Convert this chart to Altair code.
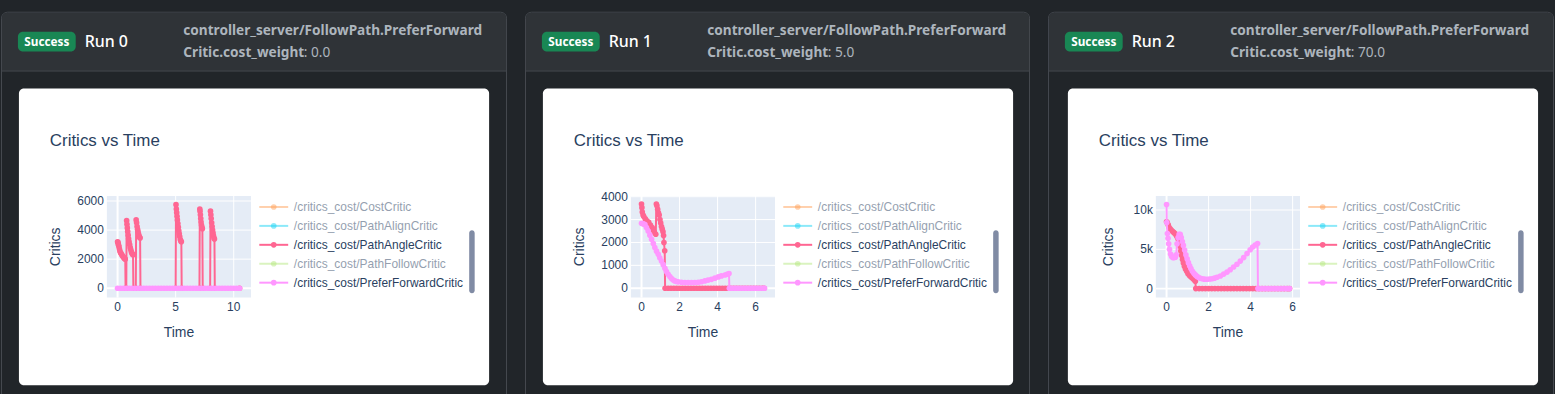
import altair as alt
import pandas as pd

# ---------------- data ----------------
RUN_LABELS = ["Run 0", "Run 1", "Run 2"]
RUN_STATUS = ["Success", "Success", "Success"]
PARAM_PATH = "controller_server/FollowPath.PreferForward"
PARAM_NAME = "Critic.cost_weight"
PARAM_VALUES = ["0.0", "5.0", "70.0"]

CHART_TITLE = "Critics vs Time"
X_TITLE = "Time"
Y_TITLE = "Critics"

SERIES_NAMES = [
    "/critics_cost/CostCritic",
    "/critics_cost/PathAlignCritic",
    "/critics_cost/PathAngleCritic",
    "/critics_cost/PathFollowCritic",
    "/critics_cost/PreferForwardCritic",
]
SERIES_COLORS = ["#FFA15A", "#19D3F3", "#FF6692", "#B6E880", "#FF97FF"]
SERIES_VISIBLE = [False, False, True, False, True]

X_TICKS = [[0, 5, 10], [0, 2, 4, 6], [0, 2, 4, 6]]
X_TICK_TEXT = [["0", "5", "10"], ["0", "2", "4", "6"], ["0", "2", "4", "6"]]
Y_TICKS = [[0, 2000, 4000, 6000], [0, 1000, 2000, 3000, 4000], [0, 5000, 10000]]
Y_TICK_TEXT = [["0", "2000", "4000", "6000"], ["0", "1000", "2000", "3000", "4000"], ["0", "5k", "10k"]]
X_DOMAIN = [[-0.92, 11.49], [-0.56, 7.02], [-0.51, 6.35]]
Y_DOMAIN = [[-646, 6344], [-410, 4030], [-1144, 11780]]

# Run 0
run0_angle_t = [0.00, 0.03, 0.06, 0.09, 0.12, 0.16, 0.20, 0.25, 0.30, 0.36, 0.42, 0.48, 0.54, 0.60, 0.66, 0.69,
                0.75, 0.78, 0.81, 0.84, 0.87, 0.91, 0.95, 0.99, 1.04, 1.09, 1.14, 1.19, 1.24, 1.29, 1.33, 1.36,
                1.57, 1.60, 1.64, 1.68, 1.72, 1.76, 1.80, 1.85, 1.90, 1.94, 1.97,
                5.00, 5.03, 5.06, 5.09, 5.12, 5.15, 5.19, 5.23, 5.27, 5.31, 5.35, 5.40, 5.45, 5.49, 5.52,
                7.05, 7.08, 7.10, 7.13, 7.16, 7.19, 7.22, 7.26, 7.30, 7.33,
                7.97, 8.00, 8.03, 8.06, 8.10, 8.14, 8.18, 8.22, 8.26, 8.30, 8.34, 8.37,
                10.50]
run0_angle_v = [3200, 3150, 3050, 2950, 2850, 2700, 2560, 2450, 2380, 2300, 2230, 2160, 2100, 2050, 2000, 0,
                0, 4650, 4400, 4150, 3900, 3650, 3400, 3200, 3000, 2800, 2650, 2500, 2400, 2330, 2300, 0,
                0, 4700, 4500, 4250, 4050, 3900, 3750, 3600, 3500, 3450, 0,
                0, 5750, 5450, 5200, 4950, 4700, 4450, 4200, 3950, 3750, 3550, 3350, 3250, 3200, 0,
                0, 5450, 5300, 5050, 4800, 4550, 4350, 4200, 4100, 0,
                0, 5300, 5050, 4800, 4500, 4250, 4000, 3800, 3600, 3450, 3380, 0,
                0]
run0_prefer_t = [0.0, 0.25, 0.5, 0.75, 1.0, 1.25, 1.5, 1.75, 2.0, 2.25, 2.5, 2.75, 3.0, 3.25, 3.5, 3.75,
                 4.0, 4.25, 4.5, 4.75, 5.0, 5.25, 5.5, 5.75, 6.0, 6.25, 6.5, 6.75, 7.0, 7.25, 7.5, 7.75,
                 8.0, 8.25, 8.5, 8.75, 9.0, 9.25, 9.5, 9.75, 10.0, 10.25, 10.5]
run0_prefer_v = [0, 0, 0, 0, 0, 0, 0, 0, 0, 0, 0, 0, 0, 0, 0, 0,
                 0, 0, 0, 0, 0, 0, 0, 0, 0, 0, 0, 0, 0, 0, 0, 0,
                 0, 0, 0, 0, 0, 0, 0, 0, 0, 0, 0]

# Run 1
run1_angle_t = [0.00, 0.02, 0.04, 0.08, 0.12, 0.20, 0.28, 0.38, 0.47, 0.56, 0.62, 0.68, 0.75,
                0.78, 0.81, 0.85, 0.89, 0.93, 0.97, 1.01, 1.05, 1.09, 1.13, 1.16, 1.18, 1.22, 1.24,
                1.40, 1.55, 1.70, 1.85, 2.00, 2.15, 2.30, 2.45, 2.60, 2.75, 2.90, 3.05, 3.20, 3.35, 3.50,
                3.65, 3.80, 3.95, 4.10, 4.25, 4.40, 4.55, 4.70, 4.85, 5.00, 5.15, 5.30, 5.45, 5.60, 5.75,
                5.90, 6.05, 6.20, 6.35, 6.45]
run1_angle_v = [3680, 3520, 3330, 3200, 3130, 3030, 2950, 2880, 2760, 2650, 2540, 2440, 2360,
                3680, 3600, 3450, 3300, 3200, 3000, 2850, 2700, 2580, 2470, 2300, 2000, 1640, 0,
                0, 0, 0, 0, 0, 0, 0, 0, 0, 0, 0, 0, 0, 0, 0,
                0, 0, 0, 0, 0, 0, 0, 0, 0, 0, 0, 0, 0, 0, 0,
                0, 0, 0, 0, 0]
run1_prefer_t = [0.00, 0.05, 0.10, 0.18, 0.26, 0.35, 0.44, 0.53, 0.62, 0.70,
                 0.79, 0.88, 0.96, 1.05, 1.14, 1.23, 1.31, 1.40, 1.49, 1.58,
                 1.67, 1.75, 1.84, 1.93, 2.10, 2.28, 2.45, 2.63, 2.80, 2.98,
                 3.15, 3.33, 3.50, 3.68, 3.86, 4.04, 4.20, 4.39, 4.50, 4.60,
                 4.62, 4.75, 4.90, 5.05, 5.20, 5.35, 5.50, 5.65, 5.80, 5.95, 6.10, 6.25, 6.40, 6.47]
run1_prefer_v = [2840, 2830, 2810, 2780, 2650, 2500, 2320, 2140, 1950, 1775,
                 1620, 1480, 1330, 1190, 1030, 870, 730, 610, 510, 420,
                 360, 320, 295, 280, 262, 250, 248, 250, 253, 260,
                 285, 320, 355, 390, 440, 495, 540, 580, 610, 640,
                 0, 0, 0, 0, 0, 0, 0, 0, 0, 0, 0, 0, 0, 0]

# Run 2
run2_angle_t = [0.00, 0.03, 0.08, 0.12, 0.17, 0.22, 0.28, 0.34, 0.40, 0.46,
                0.50, 0.55, 0.60, 0.64, 0.68, 0.72, 0.76, 0.80, 0.85, 0.90,
                0.96, 1.02, 1.10, 1.18, 1.26, 1.34, 1.37,
                1.39, 1.55, 1.70, 1.85, 2.00, 2.15, 2.30, 2.45, 2.60, 2.75, 2.90, 3.05, 3.20, 3.35, 3.50,
                3.65, 3.80, 3.95, 4.10, 4.25, 4.40, 4.55, 4.70, 4.85, 5.00, 5.15, 5.30, 5.45, 5.60, 5.75, 5.85]
run2_angle_v = [8500, 8400, 8100, 7800, 7600, 7450, 7300, 7150, 7000, 6800,
                6600, 6300, 5900, 5400, 4800, 4200, 3700, 3250, 2850, 2500,
                2200, 1900, 1650, 1450, 1250, 1050, 950,
                0, 0, 0, 0, 0, 0, 0, 0, 0, 0, 0, 0, 0, 0, 0,
                0, 0, 0, 0, 0, 0, 0, 0, 0, 0, 0, 0, 0, 0, 0, 0]
run2_prefer_t = [0.00, 0.01, 0.04, 0.07, 0.10, 0.14, 0.19, 0.24, 0.30, 0.36,
                 0.42, 0.46, 0.50, 0.55, 0.60, 0.65, 0.70, 0.75, 0.80, 0.86,
                 0.92, 0.98, 1.04, 1.10, 1.16, 1.23, 1.30, 1.37, 1.45, 1.53,
                 1.61, 1.70, 1.80, 1.93, 2.05, 2.16, 2.28, 2.40, 2.56, 2.72,
                 2.88, 3.03, 3.19, 3.35, 3.51, 3.67, 3.83, 3.98, 4.10, 4.22, 4.33,
                 4.35, 4.50, 4.65, 4.80, 4.95, 5.10, 5.25, 5.40, 5.55, 5.70, 5.85]
run2_prefer_v = [10700, 8400, 7000, 6400, 5700, 5000, 4400, 4100, 3950, 3950,
                 4000, 4300, 5700, 6500, 6900, 6900, 6500, 6000, 5500, 4900,
                 4300, 3800, 3300, 2900, 2550, 2200, 1950, 1740, 1550, 1420,
                 1320, 1250, 1200, 1190, 1220, 1260, 1330, 1450, 1610, 1850,
                 2100, 2400, 2750, 3100, 3500, 3950, 4450, 4950, 5300, 5550, 5740,
                 0, 0, 0, 0, 0, 0, 0, 0, 0, 0, 0]

RUN_SERIES = [
    [(run0_angle_t, run0_angle_v, 2), (run0_prefer_t, run0_prefer_v, 4)],
    [(run1_angle_t, run1_angle_v, 2), (run1_prefer_t, run1_prefer_v, 4)],
    [(run2_angle_t, run2_angle_v, 2), (run2_prefer_t, run2_prefer_v, 4)],
]

# ---------------- layout / style ----------------
PAGE_BG = "#212529"
BORDER = "#464a50"
HEADER_BG = "#2f3337"
GREEN = "#198754"
MUTED = "#adb5bd"
PLOT_BG = "#E5ECF6"
INK = "#2a3f5f"
HFONT = "Noto Sans"
PFONT = "Liberation Sans"

PANEL_W = [508, 507, 508]
SPACING = 16
H = 394
CARD_DX = [0, 0, 2]
PLOT_X = (106.3, 251.0)
PLOT_Y = (195.0, 297.0)
Y_TITLE_X = [55.5, 55.5, 61.5]
LEG_Y = [206, 225, 244, 263, 282]
MARKER = 32
PARAM_SIZE = 13.7

ONE = pd.DataFrame({"k": [0]})


def box(x, x2, y, y2, **kw):
    return alt.Chart(ONE).mark_rect(**kw).encode(
        x=alt.value(x), x2=alt.value(x2), y=alt.value(y), y2=alt.value(y2))


def label(x, y, text, **kw):
    return alt.Chart(ONE).mark_text(text=text, **kw).encode(x=alt.value(x), y=alt.value(y))


def panel(i):
    W = PANEL_W[i]
    dx = CARD_DX[i]
    px0, px1 = PLOT_X[0] + dx, PLOT_X[1] + dx
    py0, py1 = PLOT_Y
    xs = alt.Scale(domain=X_DOMAIN[i], range=[px0, px1], nice=False, zero=False)
    ys = alt.Scale(domain=Y_DOMAIN[i], range=[py1, py0], nice=False, zero=False)

    L = []
    # panel frame + header
    L.append(box(0.5, W - 0.5, 10.5, 440, fill=PAGE_BG, stroke=BORDER, strokeWidth=1,
                 cornerRadius=6, clip=True))
    L.append(box(1, W - 1, 11, 69, fill=HEADER_BG, cornerRadiusTopLeft=5, cornerRadiusTopRight=5))
    L.append(alt.Chart(ONE).mark_rule(color=BORDER, strokeWidth=1).encode(
        x=alt.value(1), x2=alt.value(W - 1), y=alt.value(69.5)))
    L.append(box(17, 75, 30, 50, fill=GREEN, cornerRadius=5))
    L.append(label(46, 44, RUN_STATUS[i], align="center", baseline="alphabetic", font=HFONT,
                   fontSize=11.8, fontWeight="bold", color="#ffffff"))
    L.append(label(84, 45.3, RUN_LABELS[i], align="left", baseline="alphabetic", font=HFONT,
                   fontSize=16, fontWeight=500, color="#ffffff"))
    L.append(label(183, 33.5, PARAM_PATH, align="left", baseline="alphabetic", font=HFONT,
                   fontSize=PARAM_SIZE, fontWeight="bold", color=MUTED))
    L.append(label(183, 55, PARAM_NAME, align="left", baseline="alphabetic", font=HFONT,
                   fontSize=PARAM_SIZE, fontWeight="bold", color=MUTED))
    L.append(label(304, 55, ": " + PARAM_VALUES[i], align="left", baseline="alphabetic", font=HFONT,
                   fontSize=PARAM_SIZE, color=MUTED))

    # white card + title
    L.append(box(18 + dx, 490 + dx, 87, 385, fill="#ffffff", cornerRadius=5))
    L.append(label(49 + dx, 145.3, CHART_TITLE, align="left", baseline="alphabetic", font=PFONT,
                   fontSize=17, color=INK))

    # plot area background
    bg = pd.DataFrame({"x0": [X_DOMAIN[i][0]], "x1": [X_DOMAIN[i][1]],
                       "y0": [Y_DOMAIN[i][0]], "y1": [Y_DOMAIN[i][1]]})
    L.append(alt.Chart(bg).mark_rect(fill=PLOT_BG).encode(
        x=alt.X("x0:Q", scale=xs, axis=None), x2="x1:Q",
        y=alt.Y("y0:Q", scale=ys, axis=None), y2="y1:Q"))

    # grid lines (zero line thicker)
    xg = pd.DataFrame({"t": X_TICKS[i], "lab": X_TICK_TEXT[i],
                       "w": [2 if t == 0 else 1 for t in X_TICKS[i]]})
    yg = pd.DataFrame({"v": Y_TICKS[i], "lab": Y_TICK_TEXT[i],
                       "w": [2 if v == 0 else 1 for v in Y_TICKS[i]]})
    L.append(alt.Chart(xg).mark_rule(color="#ffffff").encode(
        x=alt.X("t:Q", scale=xs, axis=None), y=alt.value(py0), y2=alt.value(py1),
        strokeWidth=alt.StrokeWidth("w:Q", scale=None)))
    L.append(alt.Chart(yg).mark_rule(color="#ffffff").encode(
        y=alt.Y("v:Q", scale=ys, axis=None), x=alt.value(px0), x2=alt.value(px1),
        strokeWidth=alt.StrokeWidth("w:Q", scale=None)))

    # data traces
    for t, v, k in RUN_SERIES[i]:
        df = pd.DataFrame({"t": t, "v": v, "i": list(range(len(t)))})
        base = alt.Chart(df).encode(
            x=alt.X("t:Q", scale=xs, axis=None),
            y=alt.Y("v:Q", scale=ys, axis=None),
            order=alt.Order("i:Q"))
        L.append(base.mark_line(color=SERIES_COLORS[k], strokeWidth=2))
        L.append(base.mark_circle(color=SERIES_COLORS[k], size=MARKER, opacity=1))

    # tick labels
    L.append(alt.Chart(xg).mark_text(align="center", baseline="alphabetic", font=PFONT,
                                     fontSize=12, color=INK).encode(
        x=alt.X("t:Q", scale=xs, axis=None), y=alt.value(310.7), text="lab:N"))
    L.append(alt.Chart(yg).mark_text(align="right", baseline="middle", font=PFONT,
                                     fontSize=12, color=INK).encode(
        y=alt.Y("v:Q", scale=ys, axis=None), x=alt.value(px0 - 3), text="lab:N"))

    # axis titles
    L.append(label((px0 + px1) / 2, 337, X_TITLE, align="center", baseline="alphabetic",
                   font=PFONT, fontSize=14, color=INK))
    L.append(label(Y_TITLE_X[i], (py0 + py1) / 2, Y_TITLE, align="center", baseline="middle",
                   angle=270, font=PFONT, fontSize=14, color=INK))

    # legend
    for k, name in enumerate(SERIES_NAMES):
        op = 1.0 if SERIES_VISIBLE[k] else 0.5
        y = LEG_Y[k]
        L.append(alt.Chart(ONE).mark_rule(color=SERIES_COLORS[k], strokeWidth=2, opacity=op).encode(
            x=alt.value(259.3 + dx), x2=alt.value(288.3 + dx), y=alt.value(y)))
        L.append(alt.Chart(ONE).mark_circle(color=SERIES_COLORS[k], size=MARKER, opacity=op).encode(
            x=alt.value(273.8 + dx), y=alt.value(y)))
        L.append(label(294 + dx, y, name, align="left", baseline="middle", font=PFONT,
                       fontSize=12, color=INK, opacity=op))

    # legend scrollbar
    L.append(box(470 + dx, 475.5 + dx, 229.3, 292.7, fill="#808BA4", cornerRadius=3))

    return alt.layer(*L).properties(width=W, height=H)


chart = alt.hconcat(panel(0), panel(1), panel(2), spacing=SPACING).properties(
    padding=0, background=PAGE_BG
).configure_view(stroke="transparent")

chart.save("out.html", embed_options={"renderer": "svg", "actions": False})
